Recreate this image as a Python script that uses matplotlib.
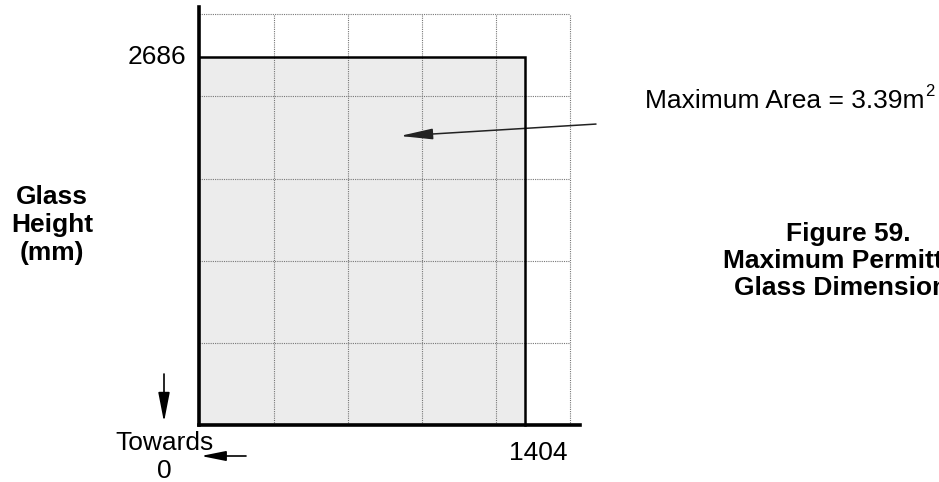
import matplotlib
matplotlib.use("Agg")
from matplotlib import pyplot as plt
from matplotlib.patches import Rectangle

plt.rcParams['font.family'] = ['Liberation Sans', 'DejaVu Sans']

# glass limits (mm)
max_width = 1404
max_height = 2686
area_label = "Maximum Area = 3.39m"
area_unit_power = "2"
x_grid = [0, 320, 640, 960, 1280, 1600]
y_grid = [0, 600, 1200, 1800, 2400, 3000]
x_max = 1641
y_max = 3053

W, H = 939, 482
fig = plt.figure(figsize=(W / 100, H / 100), dpi=100)

def fx(px):
    return px / W

def fy(py):
    return 1 - py / H

# axes box in pixels: left 199, right 580, top 7, bottom 425
ax = fig.add_axes([fx(199.3), fy(425), fx(580) - fx(199.3), fy(7) - fy(425)])
ax.set_xlim(0, x_max)
ax.set_ylim(0, y_max)
ax.set_xticks([])
ax.set_yticks([])
for s in ['top', 'right']:
    ax.spines[s].set_visible(False)
for s in ['left', 'bottom']:
    ax.spines[s].set_linewidth(2.6)
    ax.spines[s].set_zorder(6)

# shaded permitted region
ax.add_patch(Rectangle((0, 0), max_width, max_height, facecolor='#ececec',
                       edgecolor='none', zorder=1))
ax.plot([0, max_width, max_width], [max_height, max_height, 0], color='black',
        lw=1.8, zorder=5, solid_joinstyle='miter', clip_on=False)

# dotted grid, only over the grid region
ax.vlines(x_grid[1:], 0, y_grid[-1], colors='#777777', linestyles=(0, (1, 1)),
          lw=0.8, zorder=3)
ax.hlines(y_grid[1:], 0, x_grid[-1], colors='#777777', linestyles=(0, (1, 1)),
          lw=0.8, zorder=3)

fs = 19
ax.text(-0.035 * x_max, max_height, str(max_height), ha='right', va='center',
        fontsize=fs)
ax.text(max_width + 0.035 * x_max, -0.068 * y_max, str(max_width), ha='center',
        va='center', fontsize=fs)

# annotation arrow pointing into the area
ax.annotate('', xy=(865, 2111), xytext=(1710, 2198),
            arrowprops=dict(arrowstyle='-|>,head_length=2.0,head_width=0.33',
                            color='#222222', lw=1.1, shrinkA=0, shrinkB=0),
            annotation_clip=False)
t = fig.text(fx(645), fy(101), area_label, ha='left', va='center', fontsize=fs)
fig.canvas.draw()
bb = t.get_window_extent()
fig.text(bb.x1 / W + fx(1), fy(92), area_unit_power, ha='left', va='center',
         fontsize=12)

fig.text(fx(52), fy(225), "Glass\nHeight\n(mm)", ha='center', va='center',
         fontsize=fs, fontweight='bold', linespacing=1.2)

# caption runs past the right edge, as in the source page
fig.text(fx(848), fy(261), "Figure 59.\nMaximum Permitted\nGlass Dimensions",
         ha='center', va='center', fontsize=fs, fontweight='bold',
         linespacing=1.18)

# "Towards 0" arrows
fig.text(fx(164), fy(457), "Towards\n0", ha='center', va='center', fontsize=fs,
         linespacing=1.25)
ax.annotate('', xy=(fx(164), fy(422)), xytext=(fx(164), fy(374)),
            xycoords='figure fraction', textcoords='figure fraction',
            arrowprops=dict(arrowstyle='-|>,head_length=1.8,head_width=0.35',
                            color='black', lw=1.2, shrinkA=0, shrinkB=0),
            annotation_clip=False)
ax.annotate('', xy=(fx(201), fy(456)), xytext=(fx(246), fy(456)),
            xycoords='figure fraction', textcoords='figure fraction',
            arrowprops=dict(arrowstyle='-|>,head_length=1.5,head_width=0.3',
                            color='black', lw=1.2, shrinkA=0, shrinkB=0),
            annotation_clip=False)

fig.savefig("out.png", dpi=100)
